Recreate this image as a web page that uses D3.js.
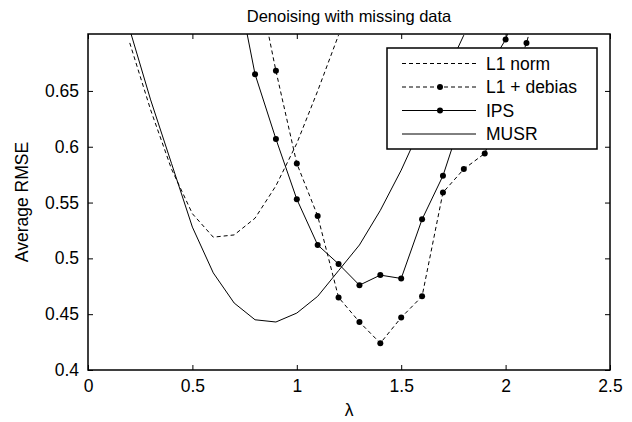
<!DOCTYPE html>
<html>
<head>
<meta charset="utf-8">
<script src="https://cdn.jsdelivr.net/npm/d3@7"></script>
<style>
  body { margin: 0; background: #fff; }
  text { font-family: "Liberation Sans", Arial, sans-serif; fill: #000; }
</style>
</head>
<body>
<div id="vis"></div>
<script>
// values, lambda steps of 0.1
var lambdaL1 = [0.2, 0.3, 0.4, 0.5, 0.6, 0.7, 0.8, 0.9, 1.0, 1.1, 1.2],
    l1Norm   = [0.693, 0.633, 0.58, 0.54, 0.519, 0.521, 0.536, 0.565, 0.603, 0.65, 0.70];

var lambdaDebias = [0.8, 0.9, 1.0, 1.1, 1.2, 1.3, 1.4, 1.5, 1.6, 1.7, 1.8, 1.9, 2.0, 2.1, 2.2],
    l1Debias     = [0.76, 0.668, 0.585, 0.538, 0.465, 0.443, 0.424, 0.447, 0.466, 0.559, 0.58, 0.594, 0.64, 0.693, 0.76];

var lambdaIPS = [0.7, 0.8, 0.9, 1.0, 1.1, 1.2, 1.3, 1.4, 1.5, 1.6, 1.7, 1.8, 1.9, 2.0, 2.1],
    ips       = [0.76, 0.665, 0.607, 0.553, 0.512, 0.495, 0.476, 0.485, 0.482, 0.535, 0.574, 0.631, 0.665, 0.696, 0.75];

var lambdaMUSR = [0.2, 0.3, 0.4, 0.5, 0.6, 0.7, 0.8, 0.9, 1.0, 1.1, 1.2, 1.3, 1.4, 1.5, 1.6, 1.7, 1.8],
    musr       = [0.705, 0.642, 0.585, 0.528, 0.487, 0.46, 0.445, 0.443, 0.451, 0.466, 0.489, 0.512, 0.543, 0.579, 0.62, 0.66, 0.70];

var xTicks = [0, 0.5, 1, 1.5, 2, 2.5],
    yTicks = [0.4, 0.45, 0.5, 0.55, 0.6, 0.65];

var legendNames = ["L1 norm", "L1 + debias", "IPS", "MUSR"];

var W = 632, H = 422,
    pLeft = 88, pRight = 610, pTop = 34, pBottom = 370;

var svg = d3.select("#vis").append("svg").attr("width", W).attr("height", H);

var x = d3.scaleLinear().domain([0, 2.5]).range([pLeft, pRight]),
    y = d3.scaleLinear().domain([0.4, 0.701]).range([pBottom, pTop]);

svg.append("clipPath").attr("id", "clip")
  .append("rect").attr("x", pLeft).attr("y", pTop).attr("width", pRight - pLeft).attr("height", pBottom - pTop);

// axes, ticks pointing inward like matlab
function styleAxis(g) {
  g.selectAll(".domain").remove();
  g.selectAll(".tick line").attr("stroke", "#000").attr("stroke-width", 1);
  g.selectAll(".tick text").style("font-size", "17.5px").attr("fill", "#000")
    .style("font-family", '"Liberation Sans", Arial, sans-serif');
}

svg.append("g").attr("transform", "translate(0," + pBottom + ")")
  .call(d3.axisBottom(x).tickValues(xTicks).tickSizeInner(-5).tickSizeOuter(0).tickPadding(10).tickFormat(d3.format("")))
  .call(styleAxis);
svg.append("g").attr("transform", "translate(0," + pTop + ")")
  .call(d3.axisTop(x).tickValues(xTicks).tickSizeInner(-5).tickSizeOuter(0).tickFormat(""))
  .call(styleAxis);
svg.append("g").attr("transform", "translate(" + pLeft + ",0)")
  .call(d3.axisLeft(y).tickValues(yTicks).tickSizeInner(-5).tickSizeOuter(0).tickPadding(9).tickFormat(d3.format("")))
  .call(styleAxis);
svg.append("g").attr("transform", "translate(" + pRight + ",0)")
  .call(d3.axisRight(y).tickValues(yTicks).tickSizeInner(-5).tickSizeOuter(0).tickFormat(""))
  .call(styleAxis);

var plot = svg.append("g").attr("clip-path", "url(#clip)");

var line = d3.line().x(function (d) { return x(d[0]); }).y(function (d) { return y(d[1]); });

function drawSeries(xs, ys, dash, dots) {
  var pts = d3.zip(xs, ys);
  plot.append("path").datum(pts)
    .attr("d", line).attr("fill", "none").attr("stroke", "#000").attr("stroke-width", 1)
    .attr("stroke-dasharray", dash);
  if (dots) {
    plot.selectAll(null).data(pts).enter().append("circle")
      .attr("cx", function (d) { return x(d[0]); })
      .attr("cy", function (d) { return y(d[1]); })
      .attr("r", 3).attr("fill", "#000");
  }
}

drawSeries(lambdaL1, l1Norm, "4,3", false);
drawSeries(lambdaDebias, l1Debias, "4,3", true);
drawSeries(lambdaIPS, ips, null, true);
drawSeries(lambdaMUSR, musr, null, false);

// frame
svg.append("rect").attr("x", pLeft).attr("y", pTop).attr("width", pRight - pLeft).attr("height", pBottom - pTop)
  .attr("fill", "none").attr("stroke", "#000").attr("stroke-width", 1.5);

// legend
var lg = svg.append("g").attr("transform", "translate(387,48)");
lg.append("rect").attr("width", 210).attr("height", 101)
  .attr("fill", "#fff").attr("stroke", "#000").attr("stroke-width", 1.5);

var legendStyle = [
  { dash: "4,3", dot: false },
  { dash: "4,3", dot: true },
  { dash: null, dot: true },
  { dash: null, dot: false }
];

legendNames.forEach(function (name, i) {
  var yy = 15.5 + i * 23.5, st = legendStyle[i];
  lg.append("line").attr("x1", 15).attr("x2", 89).attr("y1", yy).attr("y2", yy)
    .attr("stroke", "#000").attr("stroke-width", 1).attr("stroke-dasharray", st.dash);
  if (st.dot) lg.append("circle").attr("cx", 53).attr("cy", yy).attr("r", 3).attr("fill", "#000");
  lg.append("text").attr("x", 99).attr("y", yy).attr("dy", "0.36em")
    .style("font-size", "17.5px").text(name);
});

// titles
svg.append("text").attr("x", (pLeft + pRight) / 2).attr("y", 22).attr("text-anchor", "middle")
  .style("font-size", "16.5px").text("Denoising with missing data");
svg.append("text").attr("x", (pLeft + pRight) / 2).attr("y", 416).attr("text-anchor", "middle")
  .style("font-size", "17.5px").text("λ");
svg.append("text").attr("transform", "translate(28," + ((pTop + pBottom) / 2) + ") rotate(-90)")
  .attr("text-anchor", "middle").style("font-size", "17.5px").text("Average RMSE");
</script>
</body>
</html>
